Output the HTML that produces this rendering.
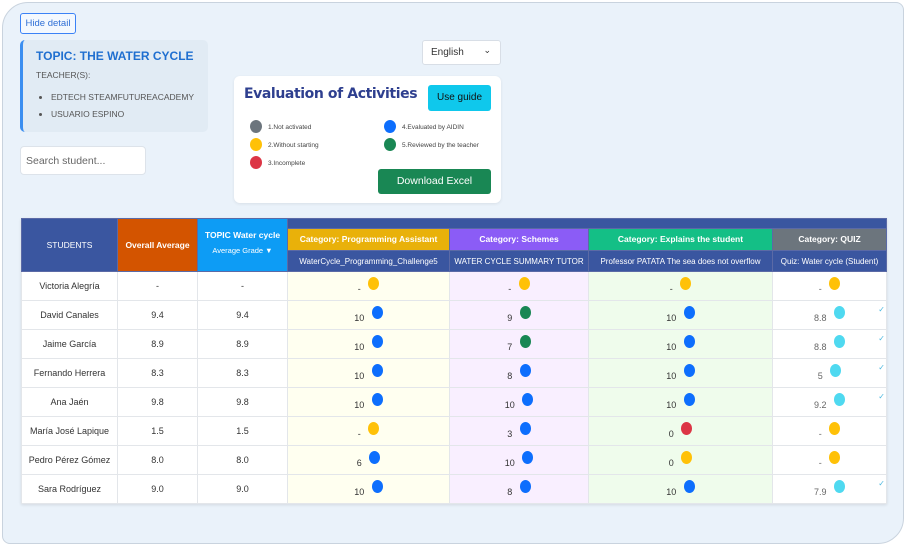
<!DOCTYPE html>
<html><head><meta charset="utf-8"><style>
*{box-sizing:border-box;margin:0;padding:0}
body{width:908px;height:546px;background:#fff;font-family:"Liberation Sans",sans-serif;position:relative;overflow:hidden}
.wrap{position:absolute;left:2px;top:2px;width:902px;height:542px;background:#eaf2fa;border:1px solid #c9d3de;border-radius:26px 8px 26px 8px}
.abs{position:absolute}
.btn{left:20px;top:13px;width:56px;height:21px;border:1px solid #3b82f6;border-radius:3px;background:#f3f8fe;color:#2f6fd6;font-size:9.5px;line-height:19px;text-align:center}
.topic{left:20px;top:40px;width:188px;height:92px;background:#e1ebf4;border-left:3px solid #3b8ef0;border-radius:5px}
.topic h1{position:absolute;left:13px;top:9px;font-size:12px;color:#1f6fd0;font-weight:bold;white-space:nowrap}
.topic .t{position:absolute;left:13px;top:30px;font-size:8.5px;color:#555}
.topic ul{position:absolute;left:28px;top:49px;font-size:8.5px;color:#555;line-height:17px;white-space:nowrap}
.search{left:20px;top:146px;width:126px;height:29px;background:#fff;border:1px solid #dde3ea;border-radius:4px;font-size:10.5px;color:#666;padding:8px 5px}
.lang{left:422px;top:40px;width:79px;height:25px;background:#fff;border:1px solid #d8dee6;border-radius:3px;font-size:10px;color:#333;padding:6px 8px}
.card{left:234px;top:76px;width:267px;height:127px;background:#fff;border-radius:6px;box-shadow:0 1px 3px rgba(0,0,0,.08)}
.card h2{position:absolute;left:10px;top:10px;font-size:14px;color:#2e3f8f;font-weight:bold;font-family:"DejaVu Sans",sans-serif;letter-spacing:-.4px;white-space:nowrap}
.guide{position:absolute;left:194px;top:9px;width:63px;height:26px;background:#0fc8ec;border-radius:3px;font-size:10px;line-height:26px;text-align:center;color:#111}
.lg{position:absolute;font-size:6.5px;color:#444;white-space:nowrap}
.lg i{position:absolute;left:-18px;top:-4px;width:12px;height:13px;border-radius:50%}
.dl{position:absolute;left:144px;top:93px;width:113px;height:25px;background:#198754;border-radius:3px;color:#fff;font-size:10.5px;line-height:25px;text-align:center}
table{position:absolute;left:21px;top:218px;border-collapse:collapse;font-size:9px;color:#333;table-layout:fixed;background:#fff;box-shadow:0 1px 3px rgba(0,0,0,.1)}
td,th{border:1px solid #e3e6ea;text-align:center;padding:0;overflow:hidden;white-space:nowrap}
td{height:29px;line-height:12px}
th{color:#fff;font-weight:bold;font-size:8.5px;border-color:#5b6aa6;line-height:11px}
.h{background:#3a56a0}
.sub th{background:#3a56a0;font-weight:normal;font-size:8px;height:21px}
.c1{background:#fffff0}.c2{background:#f9efff}.c3{background:#effcec}
.d{display:inline-block;width:11px;height:13px;border-radius:50%;vertical-align:2px;margin-left:5px}
.b{background:#0d6efd}.y{background:#ffc107}.g{background:#198754}.r{background:#dc3545}.cy{background:#4fd9f0}
.q{position:relative;color:#666}
.q s{position:absolute;right:1px;top:3px;text-decoration:none;color:#4fb9e0;font-size:8px}
</style></head><body><div class="wrap"></div>
<div class="abs btn">Hide detail</div>
<div class="abs topic"><h1>TOPIC: THE WATER CYCLE</h1><div class="t">TEACHER(S):</div><ul><li>EDTECH STEAMFUTUREACADEMY</li><li>USUARIO ESPINO</li></ul></div>
<div class="abs search">Search student...</div>
<div class="abs lang">English <span style="position:absolute;right:9px;top:4px;font-size:9px">&#8964;</span></div>
<div class="abs card"><h2>Evaluation of Activities</h2><div class="guide">Use guide</div>
<div class="lg" style="left:34px;top:48px"><i style="background:#6c757d"></i>1.Not activated</div>
<div class="lg" style="left:34px;top:66px"><i style="background:#ffc107"></i>2.Without starting</div>
<div class="lg" style="left:34px;top:84px"><i style="background:#dc3545"></i>3.Incomplete</div>
<div class="lg" style="left:168px;top:48px"><i style="background:#0d6efd"></i>4.Evaluated by AIDIN</div>
<div class="lg" style="left:168px;top:66px"><i style="background:#198754"></i>5.Reviewed by the teacher</div>
<div class="dl">Download Excel</div></div>
<table>
<colgroup><col style="width:96px"><col style="width:80px"><col style="width:90px"><col style="width:162px"><col style="width:139px"><col style="width:184px"><col style="width:114px"></colgroup>
<tr style="height:10px"><th class="h" rowspan="3" style="font-weight:normal">STUDENTS</th><th rowspan="3" style="background:#d35400">Overall Average</th><th rowspan="3" style="background:#0d9cf5">TOPIC Water cycle<br><span style="font-weight:normal;font-size:7.5px;line-height:20px">Average Grade &#9660;</span></th><th colspan="4" class="h" style="height:10px"></th></tr>
<tr style="height:22px"><th style="background:#e9b10a;height:22px">Category: Programming Assistant</th><th style="background:#8b5cf6">Category: Schemes</th><th style="background:#14bf86">Category: Explains the student</th><th style="background:#6c757d">Category: QUIZ</th></tr>
<tr class="sub" style="height:21px"><th>WaterCycle_Programming_Challenge5</th><th>WATER CYCLE SUMMARY TUTOR</th><th>Professor PATATA The sea does not overflow</th><th>Quiz: Water cycle (Student)</th></tr>
<tr><td>Victoria Alegría</td><td>-</td><td>-</td><td class="c1">- <i class="d y"></i></td><td class="c2">- <i class="d y"></i></td><td class="c3">- <i class="d y"></i></td><td class="q">- <i class="d y"></i></td></tr>
<tr><td>David Canales</td><td>9.4</td><td>9.4</td><td class="c1">10 <i class="d b"></i></td><td class="c2">9 <i class="d g"></i></td><td class="c3">10 <i class="d b"></i></td><td class="q">8.8 <i class="d cy"></i><s>✓</s></td></tr>
<tr><td>Jaime García</td><td>8.9</td><td>8.9</td><td class="c1">10 <i class="d b"></i></td><td class="c2">7 <i class="d g"></i></td><td class="c3">10 <i class="d b"></i></td><td class="q">8.8 <i class="d cy"></i><s>✓</s></td></tr>
<tr><td>Fernando Herrera</td><td>8.3</td><td>8.3</td><td class="c1">10 <i class="d b"></i></td><td class="c2">8 <i class="d b"></i></td><td class="c3">10 <i class="d b"></i></td><td class="q">5 <i class="d cy"></i><s>✓</s></td></tr>
<tr><td>Ana Jaén</td><td>9.8</td><td>9.8</td><td class="c1">10 <i class="d b"></i></td><td class="c2">10 <i class="d b"></i></td><td class="c3">10 <i class="d b"></i></td><td class="q">9.2 <i class="d cy"></i><s>✓</s></td></tr>
<tr><td>María José Lapique</td><td>1.5</td><td>1.5</td><td class="c1">- <i class="d y"></i></td><td class="c2">3 <i class="d b"></i></td><td class="c3">0 <i class="d r"></i></td><td class="q">- <i class="d y"></i></td></tr>
<tr><td>Pedro Pérez Gómez</td><td>8.0</td><td>8.0</td><td class="c1">6 <i class="d b"></i></td><td class="c2">10 <i class="d b"></i></td><td class="c3">0 <i class="d y"></i></td><td class="q">- <i class="d y"></i></td></tr>
<tr><td>Sara Rodríguez</td><td>9.0</td><td>9.0</td><td class="c1">10 <i class="d b"></i></td><td class="c2">8 <i class="d b"></i></td><td class="c3">10 <i class="d b"></i></td><td class="q">7.9 <i class="d cy"></i><s>✓</s></td></tr>
</table>
</body></html>
